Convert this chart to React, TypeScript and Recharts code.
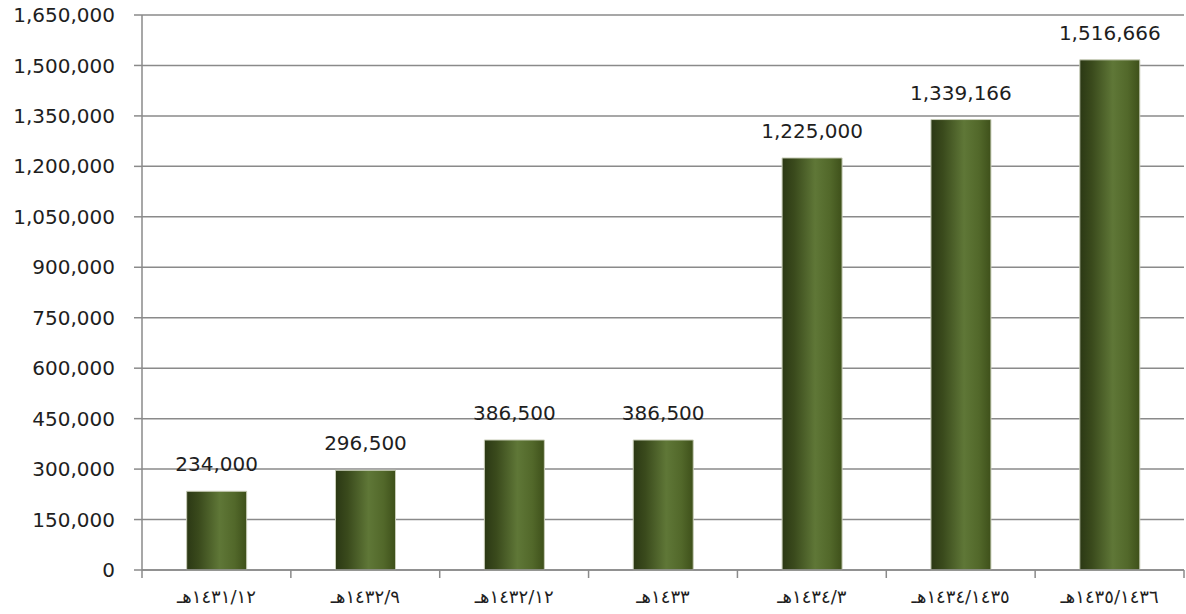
import React from 'react';
import { BarChart, Bar, XAxis, YAxis, CartesianGrid, LabelList } from 'recharts';

const categories = [
  '١٤٣١/١٢هـ',
  '١٤٣٢/٩هـ',
  '١٤٣٢/١٢هـ',
  '١٤٣٣هـ',
  '١٤٣٤/٣هـ',
  '١٤٣٤/١٤٣٥هـ',
  '١٤٣٥/١٤٣٦هـ',
];
const values = [234000, 296500, 386500, 386500, 1225000, 1339166, 1516666];
const yTicks = [0, 150000, 300000, 450000, 600000, 750000, 900000, 1050000, 1200000, 1350000, 1500000, 1650000];

const data = categories.map((c, i) => ({ name: c, value: values[i] }));

const FONT = '"DejaVu Sans", Verdana, sans-serif';
const AXIS = '#8a8a8a';
const TEXT = '#1e1e1e';

const CHART_W = 1186;
const CHART_H = 614;
const MARGIN = { top: 15, right: 2, bottom: 0, left: 0 };
const Y_W = 142;

const fmt = (v: number) => Number(v).toLocaleString('en-US');

const XTick = (props: any) => {
  const { x, y, payload, index } = props;
  const fallbackHalf = (CHART_W - MARGIN.left - MARGIN.right - Y_W) / categories.length / 2;
  const half = payload && typeof payload.offset === 'number' && payload.offset > 0 ? payload.offset : fallbackHalf;
  const isLast = index === categories.length - 1;
  return (
    <g>
      <line x1={x - half} x2={x - half} y1={y - 8} y2={y} stroke={AXIS} strokeWidth={1.5} />
      {isLast && <line x1={x + half} x2={x + half} y1={y - 8} y2={y} stroke={AXIS} strokeWidth={1.5} />}
      <text x={x} y={y + 25} textAnchor="middle" fill={TEXT} fontSize={18} fontFamily={FONT}>
        {payload.value}
      </text>
    </g>
  );
};

export default function App() {
  return (
    <div style={{ position: 'absolute', left: 0, top: 0, width: CHART_W, height: CHART_H, background: '#fff' }}>
      <BarChart width={CHART_W} height={CHART_H} data={data} margin={MARGIN} barCategoryGap="30%">
        <defs>
          <linearGradient id="barGrad" x1="0" y1="0" x2="1" y2="0">
            <stop offset="0%" stopColor="#2b3814" />
            <stop offset="20%" stopColor="#3a4a1c" />
            <stop offset="55%" stopColor="#5f7737" />
            <stop offset="80%" stopColor="#52682a" />
            <stop offset="100%" stopColor="#3e501a" />
          </linearGradient>
        </defs>
        <CartesianGrid vertical={false} stroke={AXIS} strokeWidth={1.5} />
        <XAxis
          dataKey="name"
          height={44}
          tickLine={false}
          tickSize={8}
          tickMargin={0}
          axisLine={{ stroke: AXIS, strokeWidth: 1.5 }}
          tick={<XTick />}
          interval={0}
        />
        <YAxis
          width={Y_W}
          domain={[0, 1650000]}
          ticks={yTicks}
          interval={0}
          tickFormatter={fmt}
          tickSize={8}
          tickMargin={19}
          axisLine={{ stroke: AXIS, strokeWidth: 1.5 }}
          tickLine={{ stroke: AXIS, strokeWidth: 1.5 }}
          tick={{ fill: TEXT, fontSize: 20, fontFamily: FONT }}
        />
        <Bar dataKey="value" fill="url(#barGrad)" stroke="#c8cdb8" strokeWidth={1} isAnimationActive={false}>
          <LabelList
            dataKey="value"
            position="top"
            offset={20}
            formatter={fmt}
            fill={TEXT}
            fontSize={20}
            fontFamily={FONT}
          />
        </Bar>
      </BarChart>
    </div>
  );
}
